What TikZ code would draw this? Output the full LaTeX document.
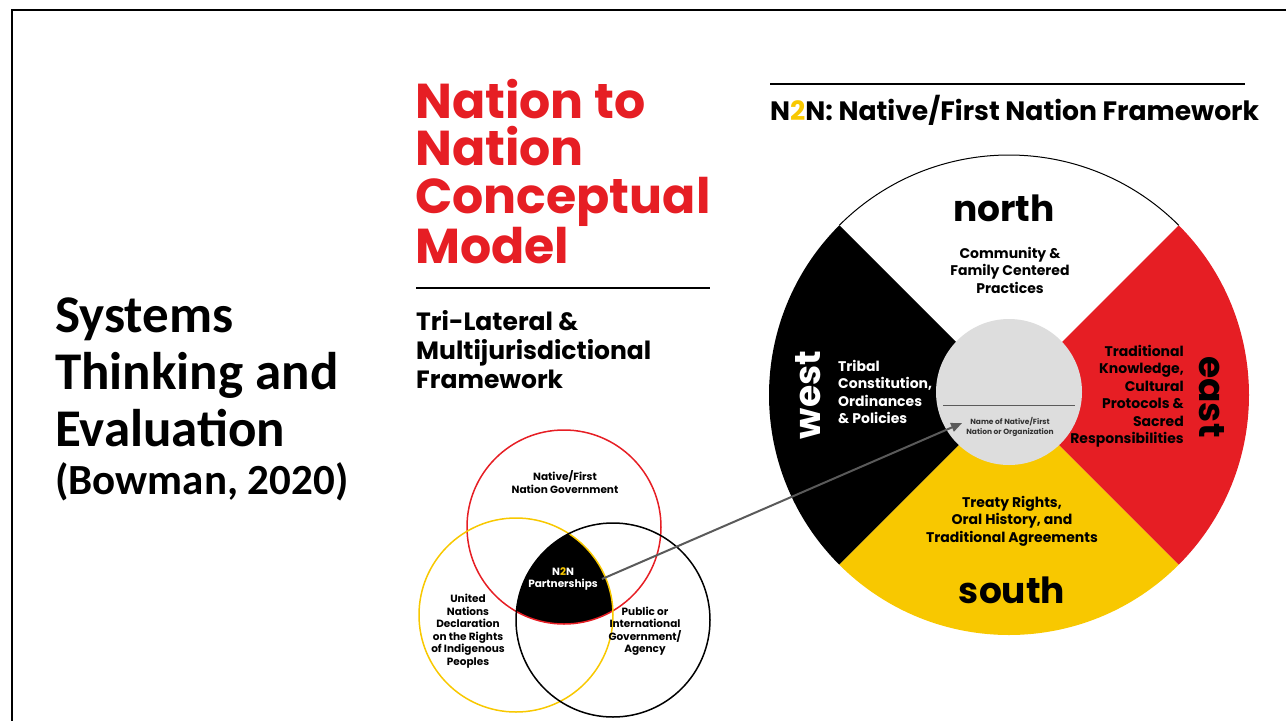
\documentclass[tikz,border=0pt]{standalone}
\usepackage{fontspec}
\usetikzlibrary{arrows.meta,positioning}
\newfontfamily\geofont{Poppins}
\newfontfamily\slidefont{Carlito}
\definecolor{n2nred}{RGB}{230,30,36}
\definecolor{n2nyellow}{RGB}{248,200,0}
\definecolor{hubgray}{RGB}{221,221,221}
\definecolor{arrowgray}{RGB}{90,90,90}

\begin{document}
\begin{tikzpicture}[x=1pt, y=1pt, every node/.style={inner sep=0pt, font=\geofont\bfseries},
                    bigred/.style={text=n2nred, align=left, anchor=north west, font=\geofont\bfseries\fontsize{49}{47.5}\selectfont},
                    subhead/.style={align=left, anchor=north west, font=\geofont\bfseries\fontsize{25}{29}\selectfont},
                    compass/.style={font=\geofont\bfseries\fontsize{36}{36}\selectfont},
                    wheeltext/.style={font=\geofont\bfseries\fontsize{14}{17.5}\selectfont},
                    venntext/.style={align=center, font=\geofont\bfseries\fontsize{10.5}{12.5}\selectfont},
                    rule/.style={line width=2pt}, pointer/.style={-{Triangle[length=11pt, width=9pt]}, line width=2pt, arrowgray}]

\useasboundingbox (0,0) rectangle (1286,-721);

% Slide frame and title
\draw[line width=2pt] (1286,-10) -- (12,-10) -- (12,-721);
\node[align=left, anchor=north west, font=\slidefont\bfseries\fontsize{53}{57}\selectfont] (systems) at (55,-298)
    {Systems\\Thinking and\\Evaluation};
\node[below right=15pt and 0pt of systems.south west, font=\slidefont\bfseries\fontsize{43}{46}\selectfont] (cite) {(Bowman, 2020)};

% Left column
\node[bigred] (model) at (415,-79) {Nation to\\Nation\\Conceptual\\Model};
\draw[rule] (416,-288) -- (710,-288);
\node[subhead] (trilateral) at (416,-310) {Tri-Lateral \&\\Multijurisdictional\\Framework};

% Venn diagram
\begin{scope}
    \begin{scope}
        \clip (564,-527) circle (97);
        \clip (516,-615) circle (97);
        \fill[black] (613,-620) circle (97);
    \end{scope}
    \draw[n2nred, line width=1.5pt] (564,-527) circle (97);
    \draw[n2nyellow, line width=1.5pt] (516,-615) circle (97);
    \draw[black, line width=1.5pt] (613,-620) circle (97);

    \node[venntext] (gov) at (565,-482) {Native/First\\Nation Government};
    \node[venntext] (undrip) at (468,-631) {United\\Nations\\Declaration\\on the Rights\\of Indigenous\\Peoples};
    \node[venntext] (agency) at (645,-631) {Public or\\International\\Government/\\Agency};
    \node[venntext, text=white] (partner) at (563,-579) {N\textcolor{n2nyellow}{2}N\\Partnerships};
\end{scope}

% Right column
\draw[rule] (770,-84) -- (1245,-84);
\node[anchor=base west, font=\geofont\bfseries\fontsize{26.6}{30}\selectfont] (framework) at (770,-120)
    {N\textcolor{n2nyellow}{2}N: Native/First Nation Framework};

% Medicine wheel
\begin{scope}[shift={(1009,-395)}]
    \foreach \a/\col in {45/white, 135/black, 225/n2nyellow, -45/n2nred} {
        \fill[\col] (0,0) -- (\a:240) arc (\a:\a+90:240) -- cycle;
    }
    \draw[line width=1pt] (45:240) arc (45:135:240);
    \node[circle, fill=hubgray, minimum size=146pt] (hub) at (0,3) {};
    \draw[arrowgray, line width=1pt, shorten <=6pt, shorten >=6pt] (hub.191) -- (hub.-11);
    \node[align=center, text=black!80, font=\geofont\bfseries\fontsize{7.5}{10}\selectfont] (hubname) at (1,-32)
        {Name of Native/First\\Nation or Organization};

    \node[compass] (north) at (-5,187) {north};
    \node[compass] (south) at (3,-195) {south};
    \node[compass, text=white, rotate=90] (west) at (-201,0) {west};
    \node[compass, rotate=-90] (east) at (203,-2) {east};

    \node[wheeltext, align=center] (northtext) at (1,125) {Community \&\\Family Centered\\Practices};
    \node[wheeltext, align=left, anchor=west, text=white] (westtext) at (-171,3) {Tribal\\Constitution,\\Ordinances\\\& Policies};
    \node[wheeltext, align=right, anchor=east] (easttext) at (175,-1) {Traditional\\Knowledge,\\Cultural\\Protocols \&\\Sacred\\Responsibilities};
    \node[wheeltext, align=center] (southtext) at (3,-126) {Treaty Rights,\\Oral History, and\\Traditional Agreements};
\end{scope}

% Arrow from partnerships to the wheel
\draw[pointer] ([xshift=4pt]partner.east) -- ([xshift=-4pt, yshift=4pt]hubname.west);

\end{tikzpicture}
\end{document}
